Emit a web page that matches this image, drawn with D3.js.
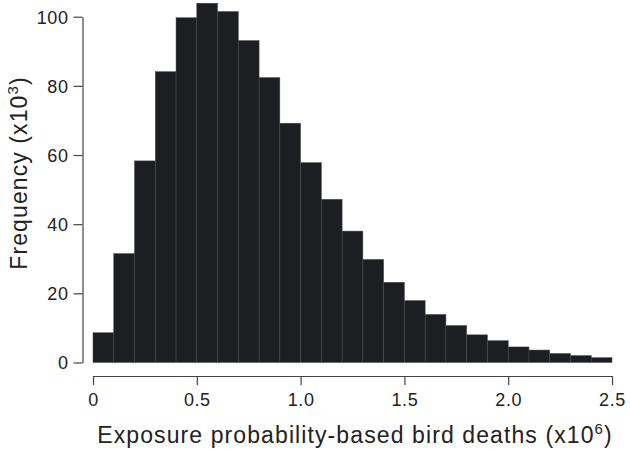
<!DOCTYPE html>
<html>
<head>
<meta charset="utf-8">
<script src="https://cdn.jsdelivr.net/npm/d3@7"></script>
<style>
  body { margin: 0; background: #fff; }
  text { font-family: "Liberation Sans", Arial, sans-serif; fill: #222; }
</style>
</head>
<body>
<div id="chart"></div>
<script>
const width = 630;
const height = 451;

// bin edges, width 0.1 (x10^6 deaths)
const binStarts = d3.range(0, 2.5, 0.1).map(v => +v.toFixed(1));
const binWidth = 0.1;
// frequency per bin (x10^3)
const freq = [8.6, 31.5, 58.3, 84.1, 99.7, 103.9, 101.5, 93.1, 82.4, 69.2,
              57.8, 47.2, 38.0, 29.8, 23.2, 17.9, 13.9, 10.7, 8.0, 6.3,
              4.5, 3.6, 2.6, 2.0, 1.4];
const xTicks = [0, 0.5, 1.0, 1.5, 2.0, 2.5];
const yTicks = [0, 20, 40, 60, 80, 100];

const bins = binStarts.map((x0, i) => ({ x0, x1: x0 + binWidth, value: freq[i] }));

const x = d3.scaleLinear().domain([0, 2.5]).range([93, 612]);
const y = d3.scaleLinear().domain([0, 100]).range([362.5, 16.7]);

const svg = d3.select("#chart")
    .append("svg")
    .attr("width", width)
    .attr("height", height);

// ──── Bars ────
svg.append("g")
    .selectAll("rect")
    .data(bins)
    .join("rect")
    .attr("x", d => x(d.x0))
    .attr("width", d => x(d.x1) - x(d.x0))
    .attr("y", d => y(d.value))
    .attr("height", d => y(0) - y(d.value))
    .attr("fill", "#1d1e22")
    .attr("stroke", "#4a4a4e")
    .attr("stroke-width", 0.5);

// ──── Axes (offset, R style) ────
const xAxis = svg.append("g")
    .attr("transform", "translate(0,376)")
    .call(d3.axisBottom(x).tickValues(xTicks)
        .tickFormat(d => d === 0 ? "0" : d3.format(".1f")(d))
        .tickSize(9).tickSizeOuter(0).tickPadding(6));

const yAxis = svg.append("g")
    .attr("transform", "translate(82.5,0)")
    .call(d3.axisLeft(y).tickValues(yTicks)
        .tickSize(9).tickSizeOuter(0).tickPadding(5));

[xAxis, yAxis].forEach(g => {
    g.select(".domain").attr("stroke", "#444").attr("stroke-width", 1.2);
    g.selectAll(".tick line").attr("stroke", "#444").attr("stroke-width", 1.2);
    g.selectAll(".tick text")
        .attr("fill", "#222")
        .style("font-family", "'Liberation Sans', Arial, sans-serif")
        .style("font-size", "18px")
        .style("letter-spacing", "0.6px");
});
yAxis.selectAll(".tick text").attr("dy", "0.36em");
xAxis.selectAll(".tick text").attr("dy", "0.85em");

// ──── Axis titles ────
const xTitle = svg.append("text")
    .attr("x", 355)
    .attr("y", 443)
    .attr("text-anchor", "middle")
    .style("font-size", "23px")
    .style("letter-spacing", "1.1px");
xTitle.append("tspan").text("Exposure probability-based bird deaths (x10");
xTitle.append("tspan").attr("dy", -9).style("font-size", "15px").text("6");
xTitle.append("tspan").attr("dy", 9).text(")");

const yTitle = svg.append("text")
    .attr("transform", "translate(27,173) rotate(-90)")
    .attr("text-anchor", "middle")
    .style("font-size", "23px")
    .style("letter-spacing", "1.1px");
yTitle.append("tspan").text("Frequency (x10");
yTitle.append("tspan").attr("dy", -9).style("font-size", "15px").text("3");
yTitle.append("tspan").attr("dy", 9).text(")");
</script>
</body>
</html>
